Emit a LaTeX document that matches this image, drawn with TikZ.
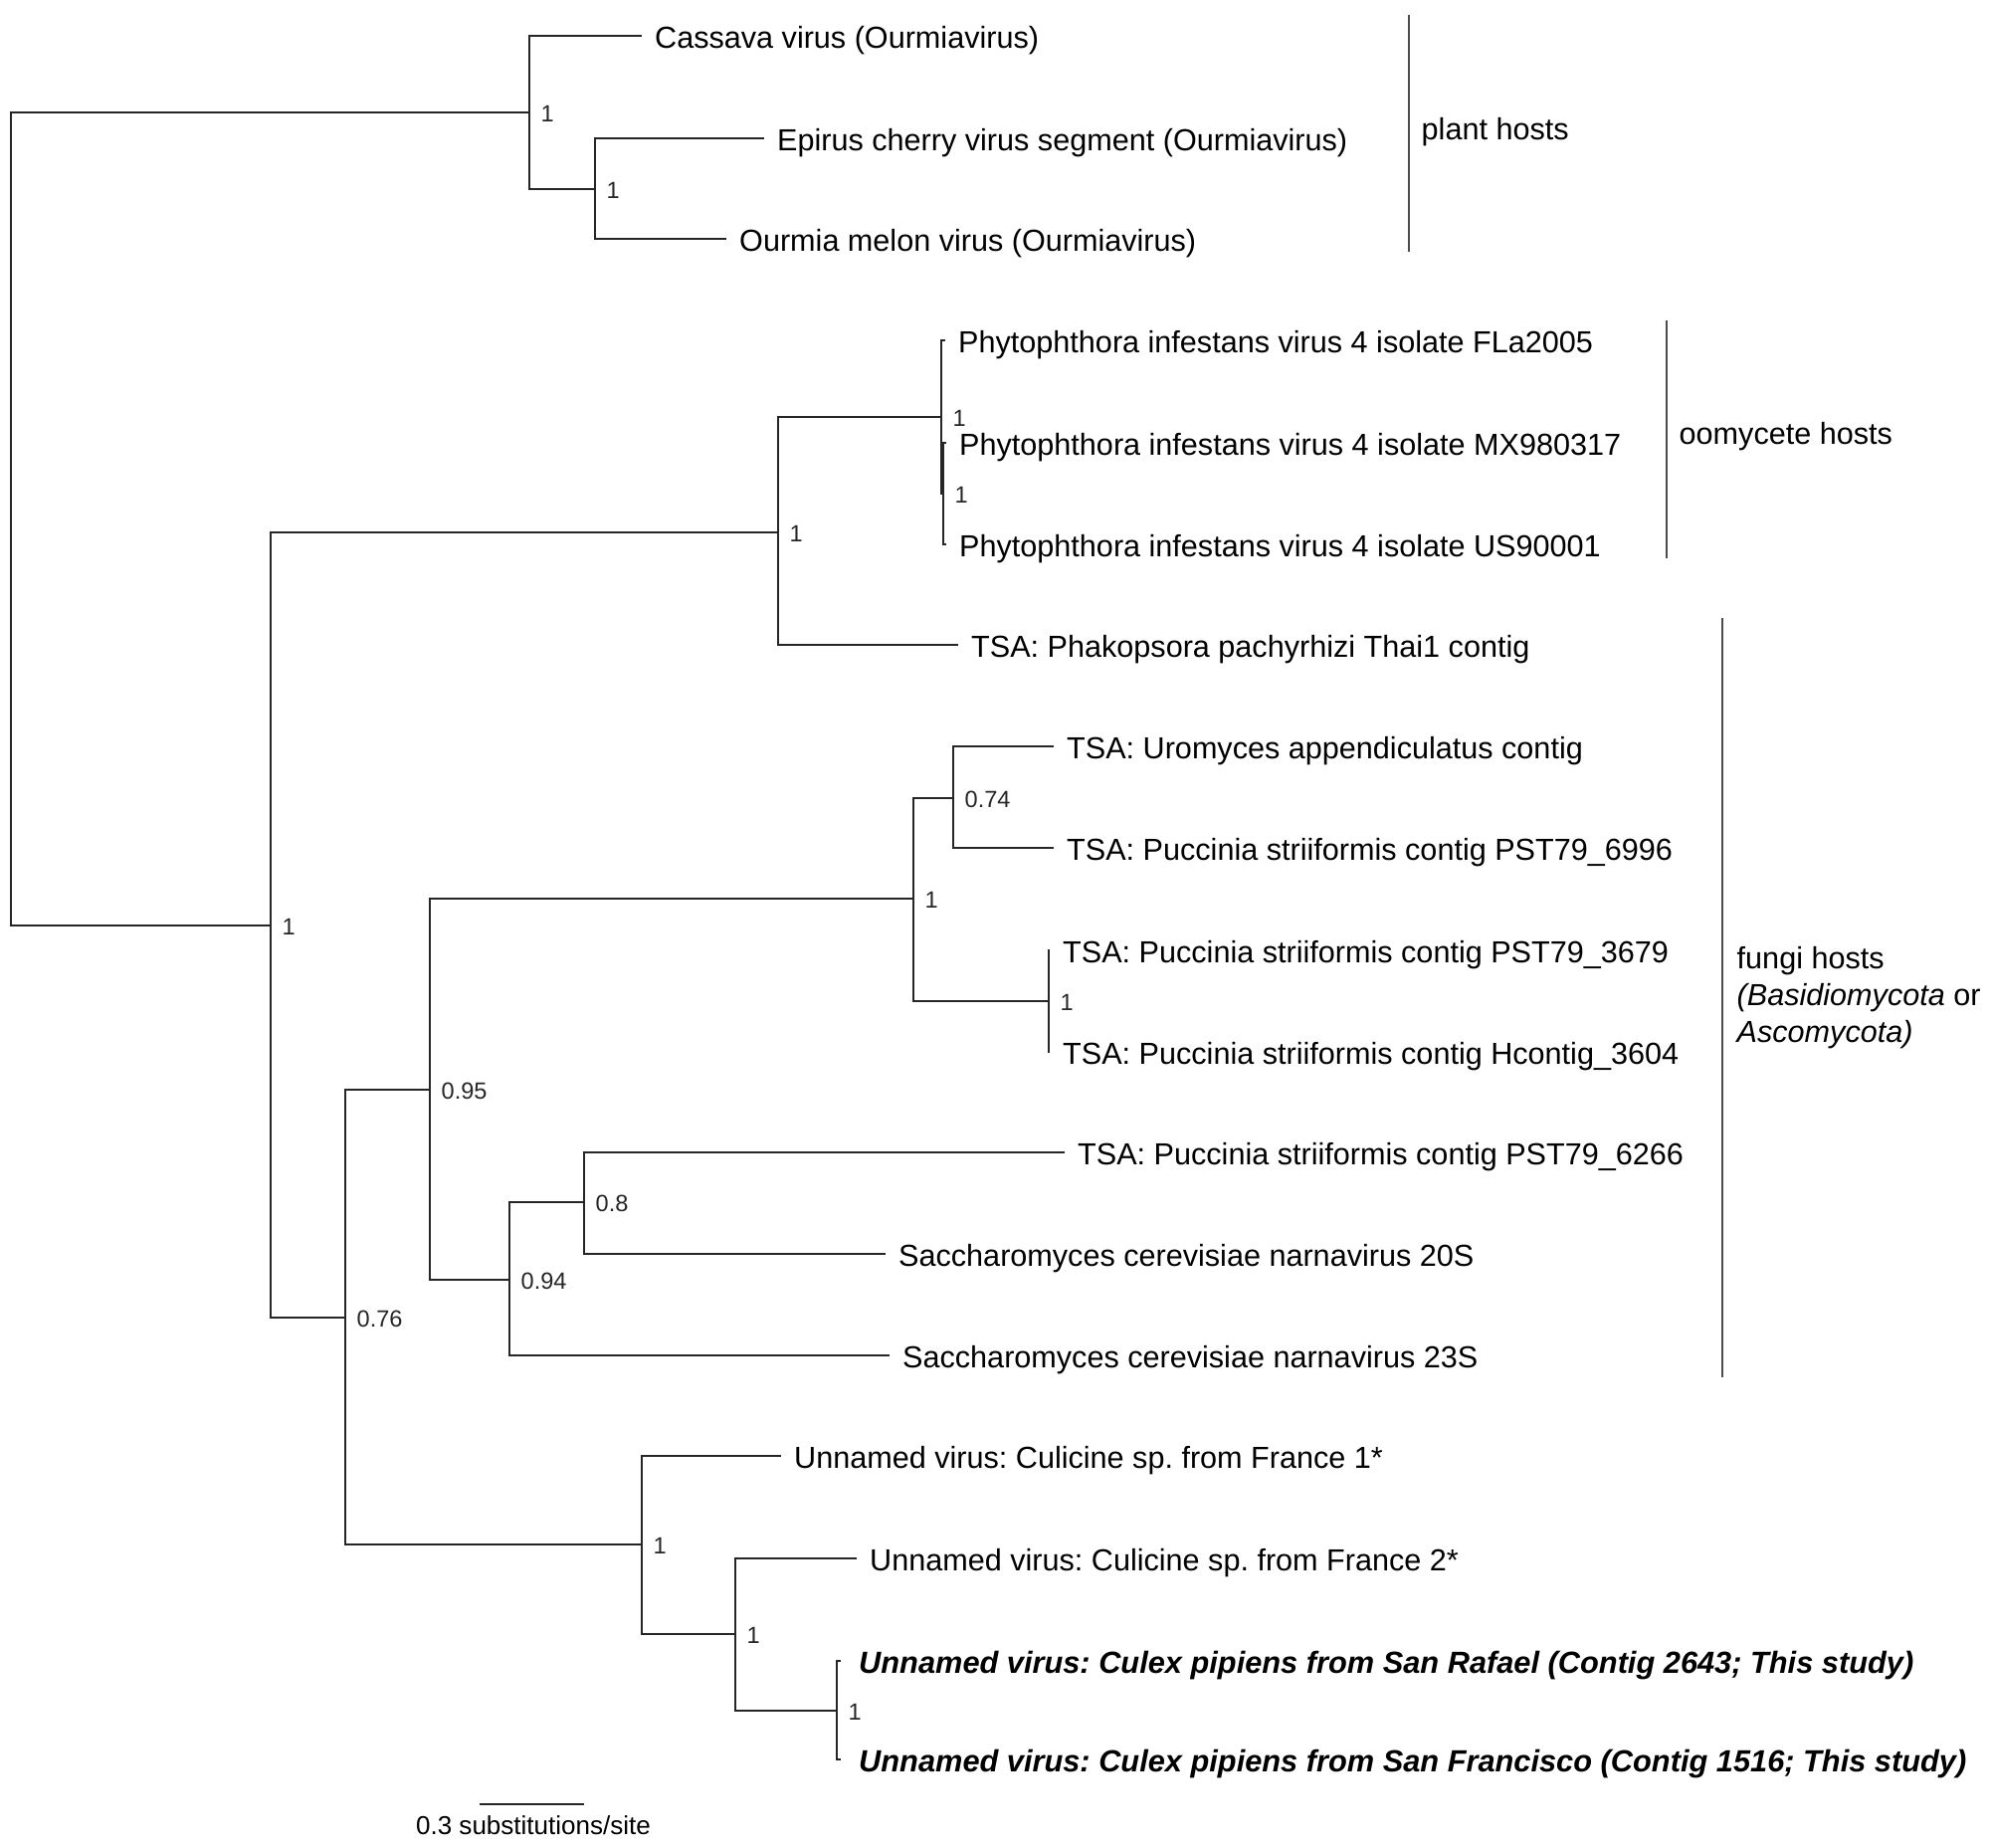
\documentclass[tikz,border=0pt]{standalone}
\usepackage{fontspec}
\setmainfont{Liberation Sans}
\frenchspacing
\begin{document}
\frenchspacing
\begin{tikzpicture}[x=0.01cm,y=-0.01cm,
  br/.style={line width=0.7pt, black!85, line join=miter},
  leaf/.style={anchor=base west, inner sep=0pt, xshift=0.125cm, yshift=-0.125cm, font=\fontsize{8.7}{10.4}\selectfont},
  bleaf/.style={leaf, xshift=0.05cm, font=\fontsize{8.75}{10.4}\selectfont\bfseries\itshape},
  supp/.style={anchor=base west, inner sep=0pt, xshift=0.11cm, yshift=-0.095cm, font=\fontsize{6.7}{8}\selectfont, black!85},
  hostbar/.style={line width=0.55pt, black!70},
  host/.style={anchor=base west, inner sep=0pt, font=\fontsize{8.7}{10.4}\selectfont}
]
\useasboundingbox (0,0) rectangle (2000,1856);
% internal nodes
\coordinate (r) at (11,522);
\coordinate (p) at (532,113);
\coordinate (e) at (598,190);
\coordinate (L) at (272,930);
\coordinate (O) at (782,535);
\coordinate (A) at (946,419);
\coordinate (B) at (948,496);
\coordinate (F) at (347,1324);
\coordinate (N95) at (432,1095);
\coordinate (N1) at (918,903);
\coordinate (N74) at (958,802);
\coordinate (N1b) at (1054,1006);
\coordinate (N94) at (512,1286);
\coordinate (N8) at (587,1208);
\coordinate (C1) at (645,1552);
\coordinate (C2) at (739,1642);
\coordinate (C3) at (841,1719);
% tips
\coordinate (t1) at (645,36);
\coordinate (t2) at (768,139);
\coordinate (t3) at (730,240);
\coordinate (t4) at (950,342);
\coordinate (t5) at (951,445);
\coordinate (t6) at (951,547);
\coordinate (t7) at (963,648);
\coordinate (t8) at (1059,750);
\coordinate (t9) at (1059,852);
\coordinate (t10) at (1055,955);
\coordinate (t11) at (1055,1057);
\coordinate (t12) at (1070,1158);
\coordinate (t13) at (890,1260);
\coordinate (t14) at (894,1362);
\coordinate (t15) at (785,1463);
\coordinate (t16) at (861,1566);
\coordinate (t17) at (845,1669);
\coordinate (t18) at (845,1768);
% branches
\draw[br] (p) -| (r) |- (L);
\draw[br] (t1) -| (p) |- (e);
\draw[br] (t2) -| (e) |- (t3);
\draw[br] (O) -| (L) |- (F);
\draw[br] (A) -| (O) |- (t7);
\draw[br] (t4) -| (A) |- (B);
\draw[br] (t5) -| (B) |- (t6);
\draw[br] (N95) -| (F) |- (C1);
\draw[br] (N1) -| (N95) |- (N94);
\draw[br] (N74) -| (N1) |- (N1b);
\draw[br] (t8) -| (N74) |- (t9);
\draw[br] (t10) -| (N1b) |- (t11);
\draw[br] (N8) -| (N94) |- (t14);
\draw[br] (t12) -| (N8) |- (t13);
\draw[br] (t15) -| (C1) |- (C2);
\draw[br] (t16) -| (C2) |- (C3);
\draw[br] (t17) -| (C3) |- (t18);
% leaf labels
\node[leaf] (l1) at (t1) {Cassava virus (Ourmiavirus)};
\node[leaf] (l2) at (t2) {Epirus cherry virus segment (Ourmiavirus)};
\node[leaf] (l3) at (t3) {Ourmia melon virus (Ourmiavirus)};
\node[leaf] (l4) at (t4) {Phytophthora infestans virus 4 isolate FLa2005};
\node[leaf] (l5) at (t5) {Phytophthora infestans virus 4 isolate MX980317};
\node[leaf] (l6) at (t6) {Phytophthora infestans virus 4 isolate US90001};
\node[leaf] (l7) at (t7) {TSA: Phakopsora pachyrhizi Thai1 contig};
\node[leaf] (l8) at (t8) {TSA: Uromyces appendiculatus contig};
\node[leaf] (l9) at (t9) {TSA: Puccinia striiformis contig PST79\_6996};
\node[leaf] (l10) at (t10) {TSA: Puccinia striiformis contig PST79\_3679};
\node[leaf] (l11) at (t11) {TSA: Puccinia striiformis contig Hcontig\_3604};
\node[leaf] (l12) at (t12) {TSA: Puccinia striiformis contig PST79\_6266};
\node[leaf] (l13) at (t13) {Saccharomyces cerevisiae narnavirus 20S};
\node[leaf] (l14) at (t14) {Saccharomyces cerevisiae narnavirus 23S};
\node[leaf] (l15) at (t15) {Unnamed virus: Culicine sp. from France 1*};
\node[leaf] (l16) at (t16) {Unnamed virus: Culicine sp. from France 2*};
\node[bleaf] (l17) at (t17) {Unnamed virus: Culex pipiens from San Rafael (Contig 2643; This study)};
\node[bleaf] (l18) at (t18) {Unnamed virus: Culex pipiens from San Francisco (Contig 1516; This study)};
% support values
\node[supp] (sp) at (p) {1};
\node[supp] (se) at (e) {1};
\node[supp] (sL) at (L) {1};
\node[supp] (sO) at (O) {1};
\node[supp] (sA) at (A) {1};
\node[supp] (sB) at (B) {1};
\node[supp] (sF) at (F) {0.76};
\node[supp] (s95) at (N95) {0.95};
\node[supp] (s1) at (N1) {1};
\node[supp] (s74) at (N74) {0.74};
\node[supp] (s1b) at (N1b) {1};
\node[supp] (s94) at (N94) {0.94};
\node[supp] (s8) at (N8) {0.8};
\node[supp] (sC1) at (C1) {1};
\node[supp] (sC2) at (C2) {1};
\node[supp] (sC3) at (C3) {1};
% host bars
\coordinate (pb1) at (1416,15);
\coordinate (pb2) at (1416,253);
\draw[hostbar] (pb1) -- (pb2);
\coordinate (ob1) at (1675,322);
\coordinate (ob2) at (1675,561);
\draw[hostbar] (ob1) -- (ob2);
\coordinate (fb1) at (1731,621);
\coordinate (fb2) at (1731,1384);
\draw[hostbar] (fb1) -- (fb2);
\node[host] (hp) at (1428,140) {plant hosts};
\node[host] (ho) at (1687,446) {oomycete hosts};
\node[host] (hf1) at (1745,973) {fungi hosts};
\node[host] (hf2) at (1745,1010) {\textit{(Basidiomycota} or};
\node[host] (hf3) at (1745,1047) {\textit{Ascomycota)}};
% scale bar
\coordinate (sb1) at (482,1813);
\coordinate (sb2) at (587,1813);
\draw[line width=0.7pt, black!85] (sb1) -- (sb2);
\node[anchor=base, inner sep=0pt, font=\fontsize{7.4}{9}\selectfont] (sbl) at (536,1843) {0.3 substitutions/site};
\end{tikzpicture}
\end{document}
